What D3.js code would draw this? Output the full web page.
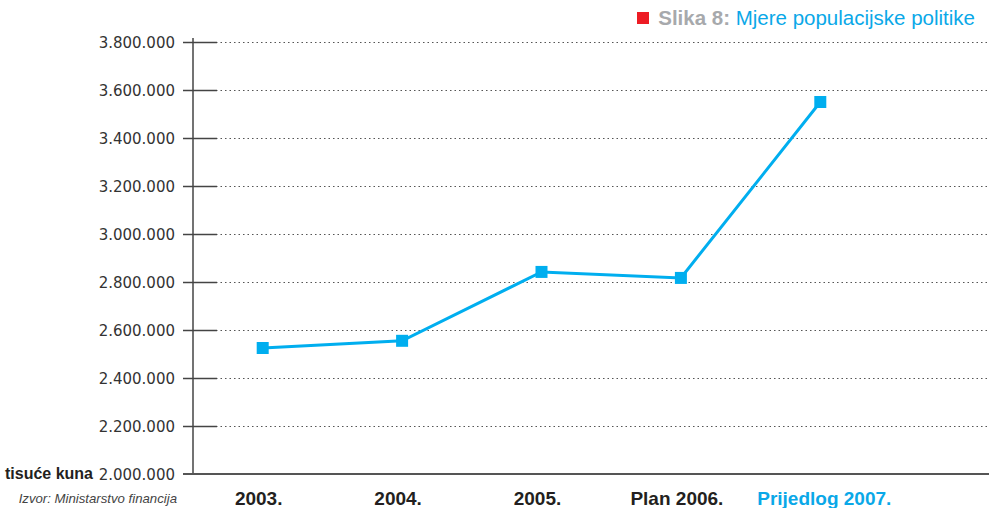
<!DOCTYPE html>
<html>
<head>
<meta charset="utf-8">
<script src="https://cdn.jsdelivr.net/npm/d3@7"></script>
<style>
  body { margin: 0; background: #fff; }
  svg { display: block; }
</style>
</head>
<body>
<svg class="chart" width="989" height="508"></svg>
<script>
var categories = ["2003.", "2004.", "2005.", "Plan 2006.", "Prijedlog 2007."];
var values = [2525000, 2555000, 2842000, 2817000, 3550000];
var yTicks = [2000000, 2200000, 2400000, 2600000, 2800000, 3000000, 3200000, 3400000, 3600000, 3800000];

var svg = d3.select("svg.chart");
var plot = {left: 193, right: 989, top: 42, bottom: 474};

var x = d3.scaleBand().domain(categories).range([193, 890]);
var y = d3.scaleLinear().domain([2000000, 3800000]).range([plot.bottom, plot.top]);

var fmt = function(d) { return d3.format(",")(d).replace(/,/g, "."); };

// dotted gridlines
svg.append("g")
  .selectAll("line")
  .data(yTicks.slice(1))
  .enter().append("line")
  .attr("x1", 216).attr("x2", plot.right)
  .attr("y1", function(d) { return y(d) + 0.5; })
  .attr("y2", function(d) { return y(d) + 0.5; })
  .attr("stroke", "#555")
  .attr("stroke-width", 1.2)
  .attr("stroke-dasharray", "1.5,3");

// y axis
var yAxis = svg.append("g")
  .attr("transform", "translate(" + plot.left + ",0)")
  .call(d3.axisLeft(y).tickValues(yTicks).tickFormat(fmt).tickSize(0).tickPadding(18));
yAxis.select(".domain").remove();
yAxis.selectAll(".tick line").remove();
yAxis.selectAll(".tick text")
  .attr("fill", "#333")
  .style("font-family", "'DejaVu Sans', sans-serif")
  .style("font-size", "15px")
  .attr("dy", "0.36em");

// short solid tick marks
svg.append("g")
  .selectAll("line")
  .data(yTicks.slice(1))
  .enter().append("line")
  .attr("x1", 183).attr("x2", 217)
  .attr("y1", function(d) { return y(d) + 0.5; })
  .attr("y2", function(d) { return y(d) + 0.5; })
  .attr("stroke", "#444")
  .attr("stroke-width", 1.5);

svg.append("line")
  .attr("x1", plot.left).attr("x2", plot.left)
  .attr("y1", plot.top - 4).attr("y2", plot.bottom)
  .attr("stroke", "#444").attr("stroke-width", 1.5);

// x axis
svg.append("line")
  .attr("x1", 183).attr("x2", plot.right)
  .attr("y1", plot.bottom).attr("y2", plot.bottom)
  .attr("stroke", "#555").attr("stroke-width", 2);

svg.append("g")
  .selectAll("text")
  .data(categories)
  .enter().append("text")
  .attr("x", function(d, i) { return x(d) + x.bandwidth() / 2 + (i === 4 ? 4 : -4); })
  .attr("y", 505)
  .attr("text-anchor", "middle")
  .attr("fill", function(d, i) { return i === 4 ? "#0aa8e8" : "#231f20"; })
  .style("font-family", "'Liberation Sans', Arial, sans-serif")
  .style("font-weight", "bold")
  .style("font-size", "19px")
  .text(function(d) { return d; });

// line + markers
var line = d3.line()
  .x(function(d, i) { return x(categories[i]) + x.bandwidth() / 2; })
  .y(function(d) { return y(d); });

svg.append("path")
  .datum(values)
  .attr("d", line)
  .attr("fill", "none")
  .attr("stroke", "#00aeef")
  .attr("stroke-width", 3);

svg.append("g")
  .selectAll("rect")
  .data(values)
  .enter().append("rect")
  .attr("x", function(d, i) { return x(categories[i]) + x.bandwidth() / 2 - 6; })
  .attr("y", function(d) { return y(d) - 6; })
  .attr("width", 12).attr("height", 12)
  .attr("fill", "#00aeef");

// unit label and source
svg.append("text")
  .attr("x", 93).attr("y", y(2000000) + 5)
  .attr("text-anchor", "end")
  .attr("fill", "#231f20")
  .style("font-family", "'Liberation Sans', Arial, sans-serif")
  .style("font-weight", "bold")
  .style("font-size", "16px")
  .text("tisuće kuna");

svg.append("text")
  .attr("x", 177).attr("y", 503)
  .attr("text-anchor", "end")
  .attr("fill", "#444")
  .style("font-family", "'Liberation Sans', Arial, sans-serif")
  .style("font-style", "italic")
  .style("font-size", "13.2px")
  .text("Izvor: Ministarstvo financija");

// title
svg.append("rect")
  .attr("x", 637).attr("y", 12).attr("width", 12).attr("height", 12)
  .attr("fill", "#ed1c24");

var title = svg.append("text")
  .attr("x", 975).attr("y", 25)
  .attr("text-anchor", "end")
  .style("font-family", "'Liberation Sans', Arial, sans-serif")
  .style("font-size", "20.5px");
title.append("tspan")
  .attr("fill", "#a7a9ac")
  .style("font-weight", "bold")
  .text("Slika 8: ");
title.append("tspan")
  .attr("fill", "#0aa8e8")
  .text("Mjere populacijske politike");
</script>
</body>
</html>
